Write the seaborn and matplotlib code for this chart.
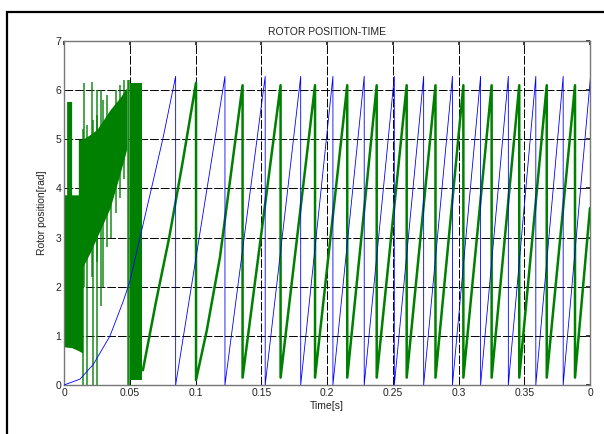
# Rotor position vs time: true angle (blue) and sensorless estimate (green)
import numpy as np
import pandas as pd
import seaborn as sns
import matplotlib
matplotlib.use("Agg")
import matplotlib.pyplot as plt
from matplotlib.patches import Rectangle

# ---- data ----
# true rotor position, vertices of the sawtooth [s], [rad]
blue_t = [0.0, 0.0122, 0.0223, 0.035, 0.045, 0.050, 0.0578, 0.0665, 0.0755, 0.0849,
          0.0849, 0.1224, 0.1224, 0.1530, 0.1530, 0.1800, 0.1800, 0.2045, 0.2045, 0.2283,
          0.2283, 0.2512, 0.2512, 0.2735, 0.2735, 0.2954, 0.2954, 0.3168, 0.3168, 0.3379,
          0.3379, 0.3588, 0.3588, 0.3796, 0.3796, 0.4004]
blue_pos = [0.0, 0.12, 0.42, 1.0, 1.7, 2.1, 3.0, 4.0, 5.05, 6.28,
            0.0, 6.28, 0.0, 6.28, 0.0, 6.28, 0.0, 6.28, 0.0, 6.28,
            0.0, 6.28, 0.0, 6.28, 0.0, 6.28, 0.0, 6.28, 0.0, 6.28,
            0.0, 6.28, 0.0, 6.28, 0.0, 6.28]

# estimated position once the observer has locked in
green_t = [0.0600, 0.0700, 0.0800, 0.0900, 0.1004, 0.1004, 0.1085, 0.1186, 0.1358,
           0.1358, 0.1647, 0.1647, 0.1909, 0.1909, 0.2154, 0.2154, 0.2378, 0.2378, 0.2606,
           0.2606, 0.2825, 0.2825, 0.3037, 0.3037, 0.3252, 0.3252, 0.3462, 0.3462, 0.3671,
           0.3671, 0.3886, 0.3886, 0.4000]
green_pos = [0.3, 1.7, 3.0, 4.5, 6.15, 0.1, 1.1, 2.6, 6.1,
             0.15, 6.1, 0.15, 6.1, 0.15, 6.1, 0.15, 6.1, 0.15, 6.1,
             0.15, 6.1, 0.15, 6.1, 0.15, 6.1, 0.15, 6.1, 0.15, 6.1,
             0.15, 6.1, 0.15, 3.6]

# startup: the estimate oscillates inside a band
band_t = [0.0, 0.0020, 0.0020, 0.0058, 0.0058, 0.0109, 0.0109, 0.0142, 0.0142,
          0.020, 0.025, 0.030, 0.035, 0.0426, 0.0477]
band_lo = [0.78, 0.77, 0.77, 0.76, 0.76, 0.70, 0.70, 0.65, 2.4,
           2.7, 3.0, 3.3, 3.6, 4.3, 4.8]
band_hi = [3.87, 3.87, 5.77, 5.77, 3.87, 3.87, 5.0, 5.0, 5.0,
           5.1, 5.2, 5.4, 5.6, 5.85, 6.05]

# dense block around 0.05 s
block_t = [0.0505, 0.0595]
block_lo = [0.1, 0.1]
block_hi = [6.15, 6.15]

# single spikes of the estimate during startup
spike_t = [0.0, 0.0147, 0.0154, 0.0173, 0.0215, 0.0223, 0.0248, 0.0253, 0.0279,
           0.0300, 0.0330, 0.0360, 0.0395, 0.0425, 0.0455, 0.0483, 0.0492]
spike_lo = [0.0, 0.0, 2.0, 0.0, 2.2, 0.0, 2.5, 0.0, 1.6,
            2.0, 2.8, 3.0, 3.5, 3.8, 4.2, 0.0, 0.0]
spike_hi = [3.87, 5.2, 6.15, 5.3, 6.17, 5.4, 6.0, 5.5, 6.0,
            5.8, 5.9, 5.5, 6.0, 6.1, 6.2, 6.2, 6.2]

x_ticks = [0, 0.05, 0.1, 0.15, 0.2, 0.25, 0.3, 0.35, 0.4]
x_ticklabels = ['0', '0.05', '0.1', '0.15', '0.2', '0.25', '0.3', '0.35', '0']
y_ticks = [0, 1, 2, 3, 4, 5, 6, 7]

sns.set_theme(style="white")
plt.rcParams['font.family'] = ['Liberation Sans', 'DejaVu Sans']

fig = plt.figure(figsize=(6.04, 4.34), dpi=100)
ax = fig.add_axes([64/604, 1 - 385/434, 526/604, 344/434])

green = '#008000'
ax.fill_between(band_t, band_lo, band_hi, color=green, lw=0, zorder=2)
ax.fill_between(block_t, block_lo, block_hi, color=green, lw=0, zorder=2)
ax.vlines(spike_t, spike_lo, spike_hi, color=green, lw=1.1, alpha=0.9, zorder=2)

blue_df = pd.DataFrame({'t': blue_t, 'pos': blue_pos})
green_df = pd.DataFrame({'t': green_t, 'pos': green_pos})
sns.lineplot(data=green_df, x='t', y='pos', sort=False, estimator=None,
             color=green, lw=1.8, ax=ax, zorder=3)
sns.lineplot(data=blue_df, x='t', y='pos', sort=False, estimator=None,
             color='#0000ff', lw=0.6, ax=ax, zorder=4)

ax.set_xlim(0, 0.4)
ax.set_ylim(0, 7)
ax.set_xticks(x_ticks)
ax.set_xticklabels(x_ticklabels)
ax.set_yticks(y_ticks)
ax.tick_params(direction='in', length=3, labelsize=7.5, colors='#222222',
               top=True, right=True, pad=2)
ax.grid(True, color='black', linestyle=(0, (9, 2)), linewidth=0.7)
ax.set_axisbelow(True)
for s in ax.spines.values():
    s.set_color('#777777')
    s.set_linewidth(1.0)

ax.set_title('ROTOR POSITION-TIME', fontsize=7.5, color='#222222', pad=4)
ax.set_xlabel('Time[s]', fontsize=7.5, color='#222222', labelpad=2)
ax.set_ylabel('Rotor position[rad]', fontsize=7.5, color='#222222', labelpad=6)

# outer frame of the original screenshot
fig.add_artist(Rectangle((7/604, -0.1), 1.2, 1.1 - 12/434, transform=fig.transFigure,
                         fill=False, ec='black', lw=1.6))

plt.savefig("out.png", dpi=100)
